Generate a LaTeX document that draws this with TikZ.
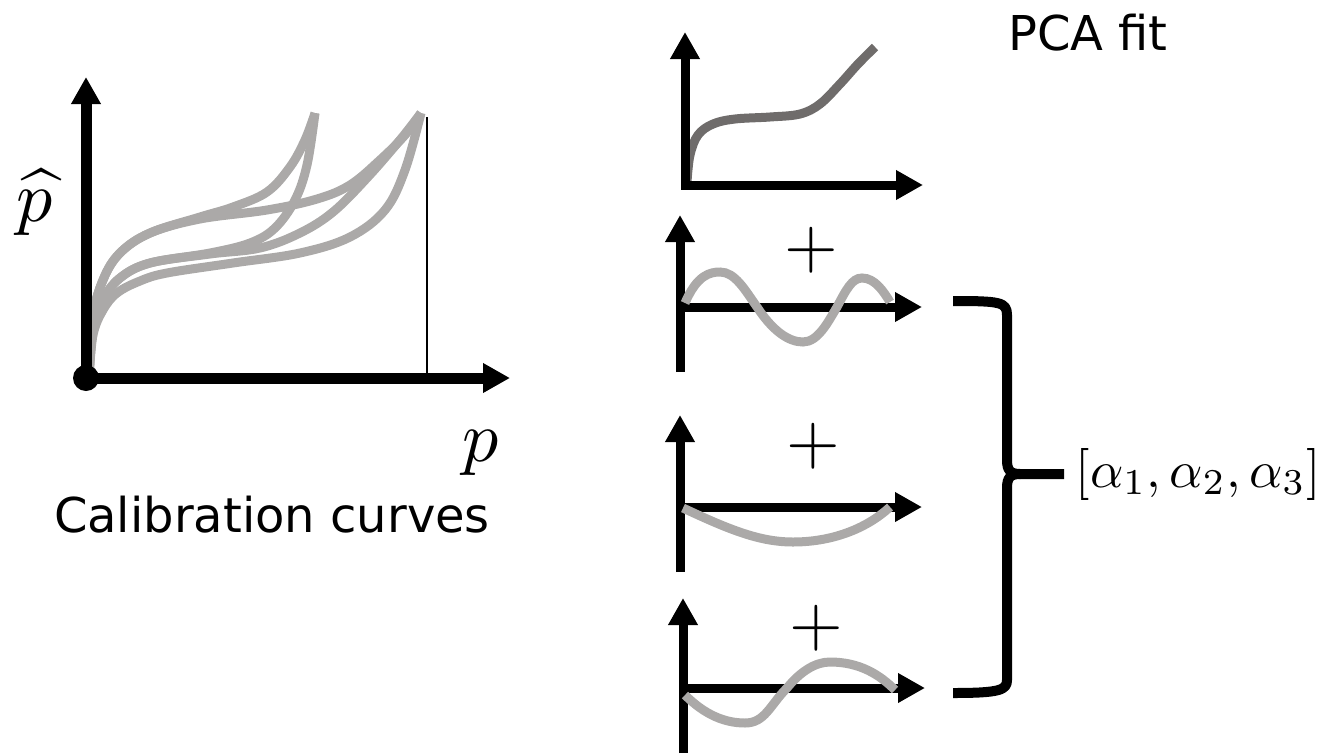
\documentclass[tikz,border=0pt]{standalone}
\usepackage{fontspec}
\setmainfont{DejaVu Sans}
\usetikzlibrary{arrows.meta}
\definecolor{curvegray}{HTML}{ABA9A8}
\definecolor{darkcurve}{HTML}{6F6C6B}
\begin{document}
\begin{tikzpicture}[x=1pt,y=-1pt,
  tipA/.tip={Triangle[length=27pt,width=28pt]},
  smallaxis/.style={line width=9pt,-tipA},
  bigaxis/.style={line width=11pt,-tipA},
  calib/.style={curvegray,line width=9pt},
  comp/.style={curvegray,line width=9pt},
  bracestyle/.style={line width=10pt,line join=round},
  lbl/.style={inner sep=0pt,outer sep=0pt}]
\useasboundingbox (0,0) rectangle (1322,755);

% ---------- left plot ----------
\coordinate (O) at (86,378);
\coordinate (Ytip) at (86,77);
\coordinate (Xtip) at (510,378);
\coordinate (Vtop) at (427,117);
\coordinate (Vbot) at (427,378);

\draw[calib] plot[smooth,tension=0.6] coordinates {(89,378) (92,320) (103,280) (120,253) (150,233) (200,217) (233,207) (267,192) (290,167) (305,140) (315,113)};
\draw[calib] plot[smooth,tension=0.6] coordinates {(89,378) (92,320) (103,280) (120,253) (150,233) (200,219) (267,210) (317,199) (350,185) (380,160) (405,135) (421,113)};
\draw[calib] plot[smooth,tension=0.6] coordinates {(89,378) (93,330) (103,300) (120,278) (150,263) (210,253) (250,243) (275,228) (295,200) (307,165) (315,113)};
\draw[calib] plot[smooth,tension=0.6] coordinates {(89,378) (93,330) (103,300) (120,278) (150,263) (210,254) (260,248) (300,233) (333,212) (367,178) (400,140) (421,113)};
\draw[calib] plot[smooth,tension=0.6] coordinates {(89,378) (93,335) (103,310) (117,293) (140,281) (167,273) (233,263) (300,253) (350,237) (385,210) (405,170) (421,113)};

\draw[line width=2.5pt] (Vtop) -- (Vbot);
\draw[bigaxis] (O) -- (Ytip);
\draw[bigaxis] (O) -- (Xtip);
\fill (O) circle (13);

\node[lbl,anchor=base,scale=7.2] (phat) at (35,221) {$\widehat{p}$};
\node[lbl,anchor=base,scale=7.2] (plab) at (481,461) {$p$};
\node[lbl,anchor=base] (calibtext) at (272,532) {\fontsize{48pt}{58pt}\selectfont Calibration curves};

% ---------- PCA fit plot ----------
\draw[darkcurve,line width=9pt] plot[smooth,tension=0.6] coordinates {(687,182) (690,155) (698,135) (713,124) (735,119) (770,117) (800,114) (820,104) (840,84) (858,64) (875,47)};
\draw[smallaxis] (685,189) -- (685,32);
\draw[smallaxis] (681,185) -- (923,185);
\node[lbl,anchor=base] (pcafit) at (1088,50) {\fontsize{48pt}{58pt}\selectfont PCA fit};

% ---------- component 1 ----------
\draw[smallaxis] (680,372) -- (680,215);
\draw[smallaxis] (680,307) -- (922,307);
\draw[comp] (685,303) .. controls (697,275) and (710,272) .. (720,272)
  .. controls (735,272) and (745,290) .. (757,307)
  .. controls (772,330) and (788,342) .. (803,342)
  .. controls (818,342) and (828,322) .. (837,307)
  .. controls (846,290) and (852,278) .. (862,278)
  .. controls (875,278) and (884,292) .. (890,302);
\node[lbl,scale=6.9] (plus1) at (811,250) {$+$};

% ---------- component 2 ----------
\draw[smallaxis] (680,572) -- (680,415);
\draw[smallaxis] (680,507) -- (922,507);
\draw[comp] (683,508) .. controls (730,530) and (760,542) .. (793,542)
  .. controls (830,542) and (865,530) .. (890,507);
\node[lbl,scale=6.9] (plus2) at (813,446) {$+$};

% ---------- component 3 ----------
\draw[smallaxis] (683,753) -- (683,598);
\draw[smallaxis] (683,688) -- (925,688);
\draw[comp] (685,695) .. controls (705,715) and (725,723) .. (745,723)
  .. controls (765,723) and (770,705) .. (787,688)
  .. controls (800,672) and (815,662) .. (830,662)
  .. controls (860,662) and (880,675) .. (895,690);
\node[lbl,scale=6.9] (plus3) at (816,628) {$+$};

% ---------- brace ----------
\coordinate (Btop) at (953,301);
\coordinate (Bbot) at (953,693);
\coordinate (Btip) at (1064,474);
\draw[bracestyle] (Btop) .. controls (1000,301) and (1007,302) .. (1007,315)
  -- (1007,460) .. controls (1007,470) and (1010,474) .. (1020,474) -- (Btip);
\draw[bracestyle] (1020,474) .. controls (1010,474) and (1007,478) .. (1007,488)
  -- (1007,680) .. controls (1007,690) and (1000,693) .. (Bbot);
\node[lbl,scale=5.2] (alphas) at (1198,474) {$[\alpha_1,\alpha_2,\alpha_3]$};
\end{tikzpicture}
\end{document}
